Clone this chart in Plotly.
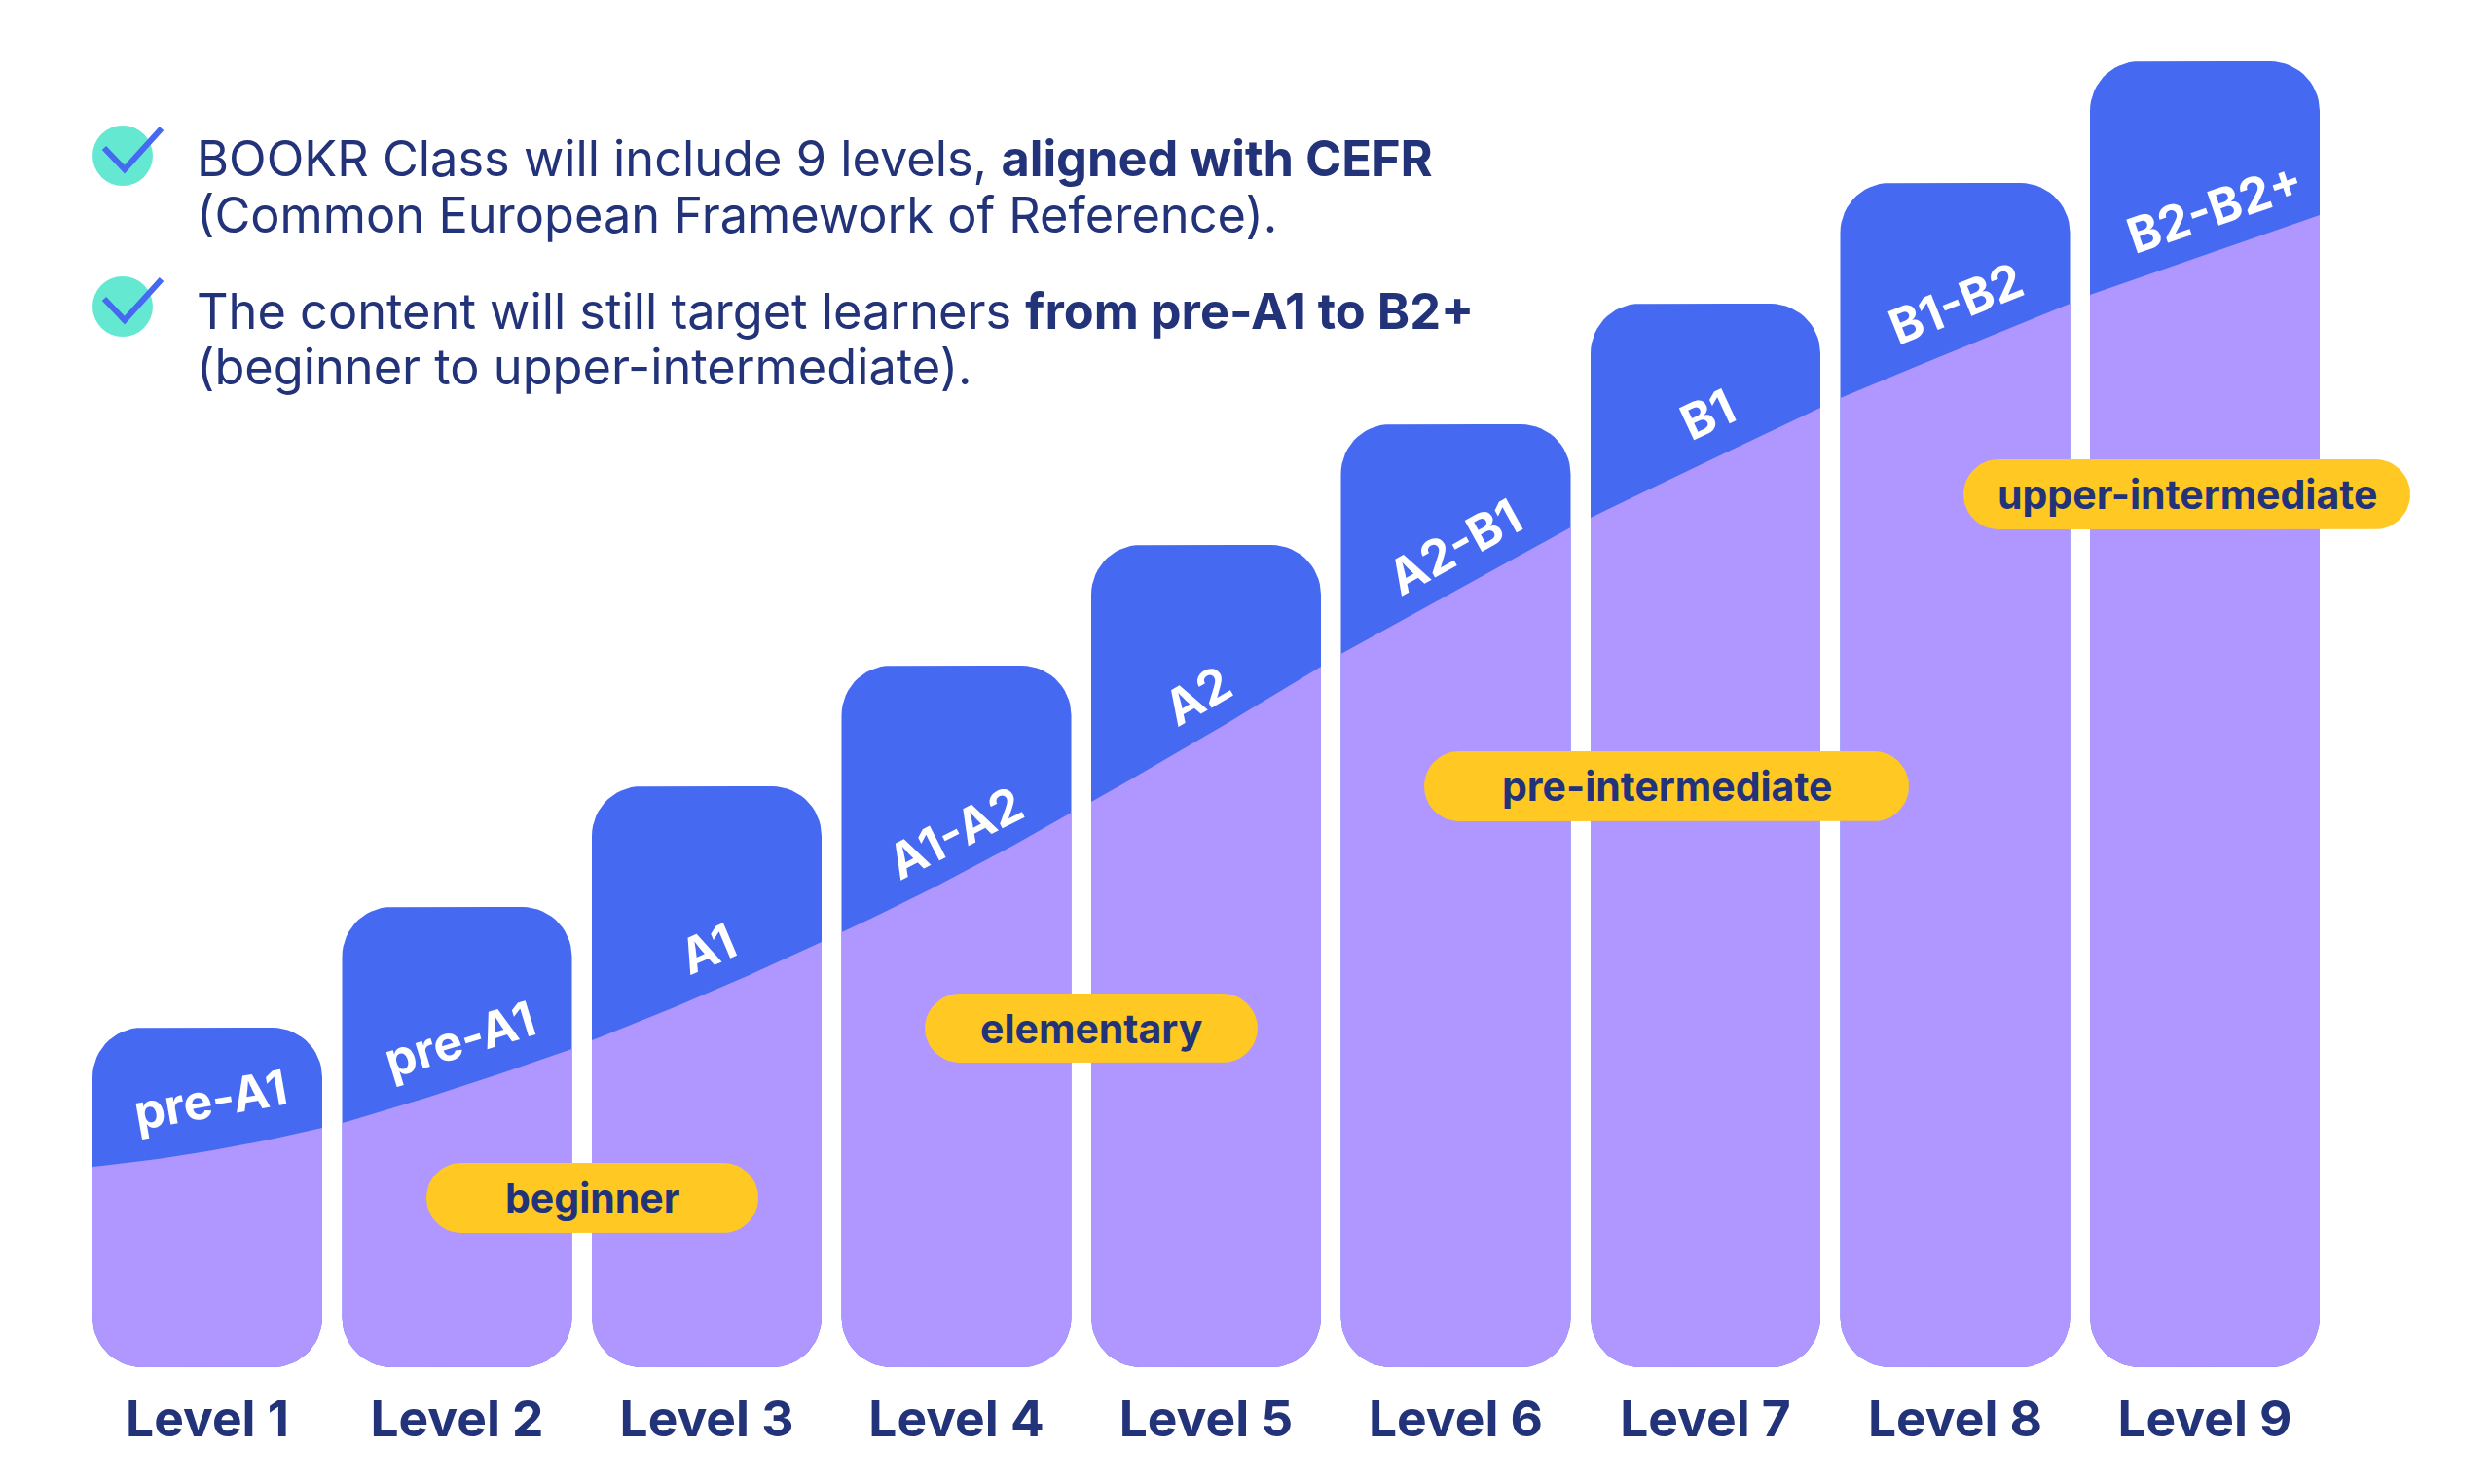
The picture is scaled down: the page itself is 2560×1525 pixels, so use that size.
#!/usr/bin/python3

import numpy as np
import plotly.graph_objects as go

# chart data, heights measured up from the bottom of the bars
levels = [1, 2, 3, 4, 5, 6, 7, 8, 9]
level_labels = ["Level 1", "Level 2", "Level 3", "Level 4", "Level 5",
                "Level 6", "Level 7", "Level 8", "Level 9"]
cefr_labels = ["pre-A1", "pre-A1", "A1", "A1-A2", "A2", "A2-B1", "B1", "B1-B2", "B2-B2+"]
bar_heights = [349, 473, 597, 721, 845, 969, 1093, 1217, 1342]
split_left = [206, 251, 336, 447, 581, 733, 873, 996, 1102]
split_mid = [222, 287, 384, 505, 649, 798, 930, 1045, 1143]
split_right = [246, 327, 437, 570, 720, 863, 986, 1093, 1184]
stage_labels = ["beginner", "elementary", "pre-intermediate", "upper-intermediate"]
intro_lines = [
    "BOOKR Class will include 9 levels, <b>aligned with CEFR</b>",
    "(Common European Framework of Reference).",
    "The content will still target learners <b>from pre-A1 to B2+</b>",
    "(beginner to upper-intermediate).",
]

# page geometry in pixels
WIDTH = 2560
HEIGHT = 1525
BAR_BOTTOM = 1405
PITCH = 256.5
FIRST_CENTER = 213
BAR_W = 236 / PITCH
RADIUS = 51

NAVY = "#22337A"
BLUE = "#4569F0"
PURPLE = "#B097FF"
YELLOW = "#FFC823"
TEAL = "#64E8D2"
FONT = "Inter"


def to_x(px):
    return 1 + (px - FIRST_CENTER) / PITCH


def to_y(py):
    return BAR_BOTTOM - py


def arc(cx, cy, r, start, stop):
    # corner of a rounded box, r is in pixels
    angle = np.radians(np.linspace(start, stop, 16))
    return list(cx + r / PITCH * np.cos(angle)), list(cy + r * np.sin(angle))


def rounded_box(x0, x1, y0, y1, r):
    xs, ys = [], []
    rx = r / PITCH
    for cx, cy, a, b in [(x0 + rx, y0 + r, 180, 270), (x1 - rx, y0 + r, 270, 360),
                         (x1 - rx, y1 - r, 0, 90), (x0 + rx, y1 - r, 90, 180)]:
        ax, ay = arc(cx, cy, r, a, b)
        xs += ax
        ys += ay
    return xs + xs[:1], ys + ys[:1]


def lower_part(x0, x1, left, mid, right, r):
    # bottom corners are round, the top edge is a bow through the three read heights
    rx = r / PITCH
    ax, ay = arc(x0 + rx, r, r, 180, 270)
    bx, by = arc(x1 - rx, r, r, 270, 360)
    t = np.linspace(1, 0, 25)
    edge_x = x0 + (x1 - x0) * t
    edge_y = left * (1 - t) * (1 - 2 * t) + mid * 4 * t * (1 - t) + right * t * (2 * t - 1)
    return ax + bx + list(edge_x) + ax[:1], ay + by + list(edge_y) + ay[:1]


data = []
for i, level in enumerate(levels):
    x0 = level - BAR_W / 2
    x1 = level + BAR_W / 2
    xs, ys = rounded_box(x0, x1, 0, bar_heights[i], RADIUS)
    data.append(go.Scatter(x=xs, y=ys, mode="lines", fill="toself", fillcolor=BLUE,
                           line=dict(width=0), hoverinfo="skip", showlegend=False))
    xs, ys = lower_part(x0, x1, split_left[i], split_mid[i], split_right[i], RADIUS)
    data.append(go.Scatter(x=xs, y=ys, mode="lines", fill="toself", fillcolor=PURPLE,
                           line=dict(width=0), hoverinfo="skip", showlegend=False))

annotations = []

# stage pills, they sit on top of the bars
pill_boxes = [(438, 779, 1195, 1267), (950, 1292, 1021, 1092),
              (1463, 1961, 772, 844), (2017, 2476, 472, 544)]
for label, (left, right, top, bottom) in zip(stage_labels, pill_boxes):
    xs, ys = rounded_box(to_x(left), to_x(right), to_y(bottom), to_y(top), 36)
    data.append(go.Scatter(x=xs, y=ys, mode="lines", fill="toself", fillcolor=YELLOW,
                           line=dict(width=0), hoverinfo="skip", showlegend=False))
    annotations.append(dict(x=to_x((left + right) / 2), y=to_y((top + bottom) / 2),
                            text="<b>%s</b>" % label, showarrow=False,
                            font=dict(family=FONT, size=41, color=NAVY)))

# rotated CEFR labels
label_spots = [(216, 1130, -10), (472, 1068, -17), (727, 975, -23), (981, 856, -27),
               (1230, 715, -30), (1494, 562, -29), (1754, 426, -25), (2009, 312, -22),
               (2275, 214, -19)]
for label, (px, py, angle) in zip(cefr_labels, label_spots):
    annotations.append(dict(x=to_x(px), y=to_y(py), text="<b>%s</b>" % label,
                            textangle=angle, showarrow=False,
                            font=dict(family=FONT, size=50, color="white")))

# intro text with the two check marks
for line, baseline in zip(intro_lines, [179, 237, 336, 393]):
    annotations.append(dict(x=to_x(200), y=to_y(baseline - 17), text=line, xanchor="left",
                            align="left", showarrow=False,
                            font=dict(family=FONT, size=50.5, color=NAVY)))

shapes = []
for cy in [160, 315]:
    shapes.append(dict(type="circle", xref="x", yref="y", layer="below",
                       x0=to_x(95), x1=to_x(157), y0=to_y(cy - 31), y1=to_y(cy + 31),
                       fillcolor=TEAL, line=dict(width=0)))
for cy in [160, 315]:
    data.append(go.Scatter(x=[to_x(107), to_x(128), to_x(166)],
                           y=[to_y(cy - 8), to_y(cy + 14), to_y(cy - 28)],
                           mode="lines", line=dict(color=BLUE, width=6),
                           hoverinfo="skip", showlegend=False))

layout = go.Layout(
    width=WIDTH,
    height=HEIGHT,
    margin=dict(l=0, r=0, t=0, b=HEIGHT - BAR_BOTTOM),
    paper_bgcolor="white",
    plot_bgcolor="white",
    showlegend=False,
    annotations=annotations,
    shapes=shapes,
    xaxis=dict(range=[to_x(0), to_x(WIDTH)], tickvals=levels, ticktext=["<b>%s</b>" % t for t in level_labels],
               tickfont=dict(family=FONT, size=51.5, color=NAVY), showgrid=False, zeroline=False,
               showline=False, ticks="", ticklabelstandoff=18, fixedrange=True),
    yaxis=dict(range=[0, BAR_BOTTOM], visible=False, fixedrange=True),
)

fig = go.Figure(data=data, layout=layout)
# the page has a default body margin, drop it so the figure fills the window
fig.write_html("out.html", config=dict(displayModeBar=False),
               post_script="document.body.style.margin = '0';")
